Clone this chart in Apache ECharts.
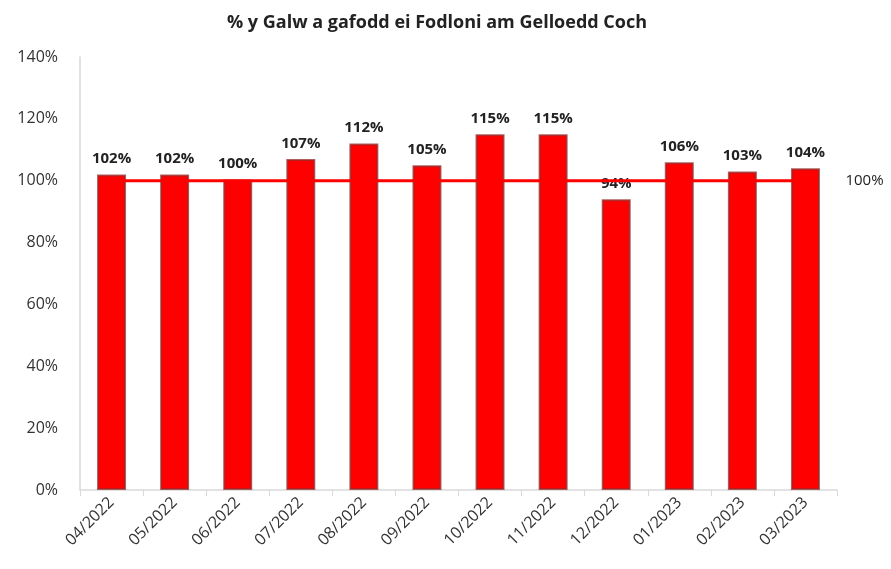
<!DOCTYPE html>
<html>
<head>
<meta charset="utf-8">
<script src="https://cdn.jsdelivr.net/npm/echarts@6/dist/echarts.min.js"></script>
<style>
	html, body { margin: 0; padding: 0; background: #fff; }
	#chart { width: 891px; height: 569px; }
</style>
</head>
<body>
<div id="chart"></div>
<script>
const months = ['04/2022', '05/2022', '06/2022', '07/2022', '08/2022', '09/2022',
	'10/2022', '11/2022', '12/2022', '01/2023', '02/2023', '03/2023'];
const demandMet = [102, 102, 100.4, 107, 112, 105, 115, 115, 94, 106, 103, 104];
const target = [100, 100, 100, 100, 100, 100, 100, 100, 100, 100, 100, 100];
const yTicks = [0, 20, 40, 60, 80, 100, 120, 140];

const fontFamily = '"Open Sans", Lato, sans-serif';
const chart = echarts.init(document.getElementById('chart'));

chart.setOption({
	animation: false,
	title: {
		text: '% y Galw a gafodd ei Fodloni am Gelloedd Coch',
		left: 432,
		top: 9,
		textAlign: 'center',
		textStyle: { fontFamily, fontSize: 18, fontWeight: 'bold', color: '#222' },
	},
	grid: { left: 80, right: 54, top: 57, bottom: 79 },
	xAxis: {
		type: 'category',
		data: months,
		boundaryGap: true,
		axisLine: { lineStyle: { color: '#d9d9d9', width: 1.5 } },
		axisTick: { show: true, length: 6, lineStyle: { color: '#d9d9d9' } },
		axisLabel: {
			rotate: 45,
			fontFamily,
			fontSize: 16,
			color: '#333',
			margin: 10,
		},
	},
	yAxis: {
		type: 'value',
		min: yTicks[0],
		max: yTicks[yTicks.length - 1],
		interval: 20,
		axisLine: { show: true, lineStyle: { color: '#d9d9d9', width: 1.5 } },
		axisTick: { show: false },
		splitLine: { show: false },
		axisLabel: {
			fontFamily,
			fontSize: 16,
			color: '#333',
			margin: 22,
			formatter: (v) => v + '%',
		},
	},
	series: [
		{
			type: 'bar',
			data: demandMet,
			barWidth: 29,
			itemStyle: {
				color: '#ff0000',
				borderColor: 'rgba(150, 40, 40, 0.75)',
				borderWidth: 2,
			},
			label: {
				show: true,
				position: 'top',
				distance: 8,
				fontFamily,
				fontSize: 15,
				fontWeight: 'bold',
				color: '#222',
				formatter: (p) => Math.round(p.value) + '%',
			},
			z: 2,
		},
		{
			type: 'line',
			data: target,
			symbol: 'none',
			lineStyle: { color: '#ff0000', width: 3 },
			endLabel: {
				show: true,
				distance: 40,
				fontFamily,
				fontSize: 15,
				color: '#222',
				formatter: '100%',
			},
			z: 3,
		},
	],
});
</script>
</body>
</html>
